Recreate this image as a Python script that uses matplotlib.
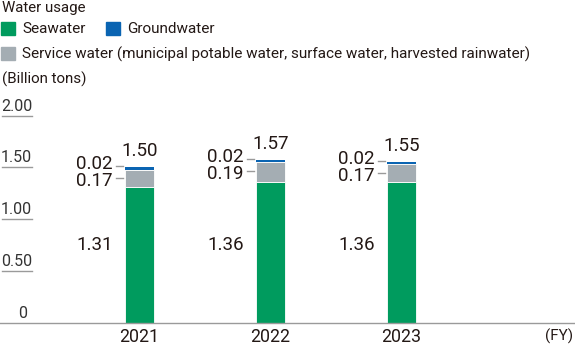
import matplotlib
matplotlib.use("Agg")
import matplotlib.pyplot as plt
import matplotlib.transforms as mtransforms
from matplotlib.patches import Rectangle

plt.rcParams["font.family"] = ["Roboto", "DejaVu Sans"]

years = ["2021", "2022", "2023"]
seawater = [1.31, 1.36, 1.36]
service = [0.17, 0.19, 0.17]
ground = [0.02, 0.02, 0.02]
totals = ["1.50", "1.57", "1.55"]
yticks = [0.5, 1.0, 1.5, 2.0]
ytick_labels = ["0.50", "1.00", "1.50", "2.00"]

GREEN = "#009B5E"
BLUE = "#0A64B2"
GRAY = "#A4ADB3"
TXT = "#231815"
LINE = "#9A9A9A"

W, H = 575, 345
fig = plt.figure(figsize=(W / 100, H / 100), dpi=100)
ax = fig.add_axes([0, (H - 322.7) / H, 1, 207 / H])
ax.set_xlim(-139.5 / 131, (W - 139.5) / 131)
ax.set_ylim(0, 2.0)
for s in ["top", "right", "left"]:
    ax.spines[s].set_visible(False)
ax.spines["bottom"].set_color(LINE)
ax.spines["bottom"].set_linewidth(1.0)
ax.set_yticks([])

x = list(range(len(years)))
bw = 29 / 131
px = 1 / 131      # one pixel in x data units
py = 1 / 103.5    # one pixel in y data units

base2 = [a + b for a, b in zip(seawater, service)]
ax.bar(x, seawater, bw, color=GREEN, edgecolor="white", linewidth=0.6)
ax.bar(x, service, bw, bottom=seawater, color=GRAY, edgecolor="white", linewidth=0.6)
ax.bar(x, ground, bw, bottom=base2, color=BLUE, linewidth=0)

ax.set_xticks(x)
ax.set_xticklabels(years, fontsize=12.8, color=TXT)
ax.tick_params(axis="x", length=0, pad=4)

bt = mtransforms.blended_transform_factory(ax.transAxes, ax.transData)
ax.text(1.0 - 2 / W, -14 * py, "(FY)", transform=bt,
        ha="right", va="center", fontsize=11, color=TXT, clip_on=False)

# y tick labels with short underline
for v, lab in zip(yticks, ytick_labels):
    ax.plot([2 / W, 32 / W], [v, v], transform=bt, color=LINE, lw=1.0, clip_on=False)
    ax.text(32 / W, v + 2 * py, lab, transform=bt, ha="right", va="bottom",
            fontsize=11.5, color="#333333", clip_on=False)
ax.text(27 / W, 2 * py, "0", transform=bt, ha="right", va="bottom",
        fontsize=11.5, color="#333333", clip_on=False)

# value labels
for i in x:
    top = seawater[i] + service[i] + ground[i]
    left = i - bw / 2
    ax.text(i, top + 7 * py, totals[i], ha="center", va="bottom", fontsize=13.5, color=TXT, clip_on=False)
    ax.text(left - 12 * px, 0.75, f"{seawater[i]:.2f}", ha="right", va="center", fontsize=13.5, color=TXT)
    ax.plot([left - 9 * px, left - 2 * px], [top + 1 * py, top + 1 * py], color=LINE, lw=1.0)
    ax.plot([left - 9 * px, left - 2 * px], [top - 11 * py, top - 11 * py], color=LINE, lw=1.0)
    ax.text(left - 12 * px, top + 3 * py, f"{ground[i]:.2f}", ha="right", va="center", fontsize=13.5, color=TXT)
    ax.text(left - 12 * px, top - 14 * py, f"{service[i]:.2f}", ha="right", va="center", fontsize=13.5, color=TXT)

# legend / header in figure pixel coordinates (from top)
def fy(p):
    return 1 - p / H

fig.text(2 / W, fy(8), "Water usage", ha="left", va="center", fontsize=10.8, color=TXT)
fig.patches.append(Rectangle((1 / W, fy(35)), 14 / W, 13 / H, transform=fig.transFigure, color=GREEN))
fig.text(22 / W, fy(29), "Seawater", ha="left", va="center", fontsize=11, color=TXT)
fig.patches.append(Rectangle((106 / W, fy(35)), 14 / W, 13 / H, transform=fig.transFigure, color=BLUE))
fig.text(127 / W, fy(29), "Groundwater", ha="left", va="center", fontsize=11, color=TXT)
fig.patches.append(Rectangle((1 / W, fy(60)), 14 / W, 13 / H, transform=fig.transFigure, color=GRAY))
fig.text(22 / W, fy(54), "Service water (municipal potable water, surface water, harvested rainwater)",
         ha="left", va="center", fontsize=11, color=TXT)
fig.text(2 / W, fy(79), "(Billion tons)", ha="left", va="center", fontsize=10.9, color=TXT)

fig.savefig("out.png", dpi=100)
